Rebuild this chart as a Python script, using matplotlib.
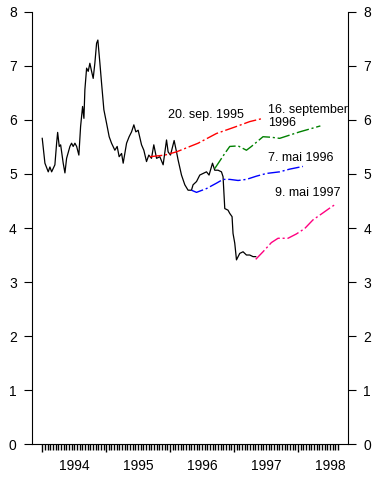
import numpy as np
import matplotlib.pyplot as plt

# black line: money market rate (decimal years)
t_rate = [1994.000, 1994.042, 1994.094, 1994.120, 1994.147, 1994.198, 1994.225, 1994.241,
          1994.266, 1994.288, 1994.328, 1994.355, 1994.381, 1994.433, 1994.459, 1994.484,
          1994.511, 1994.538, 1994.573, 1994.600, 1994.631, 1994.652, 1994.667, 1994.694,
          1994.719, 1994.745, 1994.772, 1994.797, 1994.823, 1994.850, 1994.870, 1994.902,
          1994.928, 1994.964, 1995.006, 1995.047, 1995.084, 1995.136, 1995.172, 1995.203,
          1995.241, 1995.266, 1995.319, 1995.359, 1995.397, 1995.433, 1995.464, 1995.500,
          1995.553, 1995.589, 1995.631, 1995.667, 1995.709, 1995.745, 1995.788, 1995.839,
          1995.891, 1995.944, 1995.969, 1996.006, 1996.063, 1996.100, 1996.125, 1996.178,
          1996.230, 1996.281, 1996.334, 1996.359, 1996.413, 1996.464, 1996.516, 1996.569,
          1996.609, 1996.663, 1996.698, 1996.750, 1996.803, 1996.828, 1996.855, 1996.906,
          1996.933, 1996.969, 1996.984, 1997.011, 1997.038, 1997.089, 1997.141, 1997.194,
          1997.245, 1997.297, 1997.339]
rate = [5.66, 5.20, 5.04, 5.13, 5.04, 5.17, 5.57, 5.77,
        5.51, 5.54, 5.20, 5.02, 5.29, 5.51, 5.57, 5.51,
        5.57, 5.51, 5.35, 5.88, 6.25, 6.03, 6.56, 6.96,
        6.90, 7.05, 6.90, 6.77, 7.05, 7.42, 7.48, 7.05,
        6.68, 6.19, 5.94, 5.69, 5.57, 5.44, 5.51, 5.32,
        5.38, 5.20, 5.57, 5.69, 5.78, 5.91, 5.78, 5.81,
        5.54, 5.44, 5.23, 5.35, 5.29, 5.54, 5.29, 5.32,
        5.17, 5.63, 5.41, 5.35, 5.62, 5.41, 5.26, 4.98,
        4.80, 4.70, 4.70, 4.80, 4.86, 4.98, 5.01, 5.04,
        4.98, 5.20, 5.07, 5.07, 5.04, 4.95, 4.36, 4.33,
        4.27, 4.21, 3.90, 3.72, 3.41, 3.53, 3.56, 3.50,
        3.50, 3.47, 3.47]

# forward rates
t_sep95 = [1995.683, 1995.917, 1996.100, 1996.438, 1996.725, 1997.038, 1997.245, 1997.453]
fw_sep95 = [5.32, 5.35, 5.41, 5.57, 5.75, 5.88, 5.97, 6.03]

t_sep96 = [1996.698, 1996.855, 1996.933, 1997.063, 1997.194, 1997.272, 1997.453, 1997.584,
           1997.714, 1997.870, 1998.027, 1998.234, 1998.350]
fw_sep96 = [5.10, 5.38, 5.51, 5.52, 5.44, 5.51, 5.69, 5.68, 5.66, 5.72, 5.78, 5.85, 5.89]

t_mai96 = [1996.334, 1996.413, 1996.569, 1996.725, 1996.828, 1996.933, 1997.063, 1997.194,
           1997.350, 1997.506, 1997.714, 1997.870, 1998.078]
fw_mai96 = [4.70, 4.66, 4.73, 4.83, 4.90, 4.90, 4.88, 4.90, 4.96, 5.01, 5.04, 5.09, 5.14]

t_mai97 = [1997.339, 1997.453, 1997.584, 1997.688, 1997.844, 1997.975, 1998.105, 1998.234,
           1998.391, 1998.522, 1998.589]
fw_mai97 = [3.42, 3.56, 3.73, 3.81, 3.81, 3.89, 3.99, 4.15, 4.28, 4.39, 4.44]

years = [1994, 1995, 1996, 1997, 1998]

plt.rcParams['font.family'] = ['Liberation Sans', 'DejaVu Sans']

fig = plt.figure(figsize=(3.81, 4.78), dpi=100)
ax = fig.add_axes([0.084, 0.071, 0.829, 0.904])

dash = (0, (9, 2, 1.5, 2))
ax.plot(t_rate, rate, color='black', lw=0.9)
ax.plot(t_sep95, fw_sep95, color='#ff0000', lw=1, linestyle=dash)
ax.plot(t_sep96, fw_sep96, color='#008000', lw=1, linestyle=dash)
ax.plot(t_mai96, fw_mai96, color='#0000ff', lw=1, linestyle=dash)
ax.plot(t_mai97, fw_mai97, color='#ff0080', lw=1, linestyle=dash)

ax.text(1995.96, 6.09, '20. sep. 1995', fontsize=9, va='center')
ax.text(1997.53, 6.19, '16. september', fontsize=9, va='center')
ax.text(1997.53, 5.94, '1996', fontsize=9, va='center')
ax.text(1997.53, 5.30, '7. mai 1996', fontsize=9, va='center')
ax.text(1997.64, 4.65, '9. mai 1997', fontsize=9, va='center')

ax.set_xlim(1993.84, 1998.78)
ax.set_ylim(0, 8)
ax.spines['top'].set_visible(False)
ax.spines['right'].set_visible(True)

ax.set_yticks(range(0, 9))
ax.tick_params(axis='y', which='both', direction='out', length=6, labelsize=10,
               left=True, right=True, labelleft=True, labelright=True, pad=5)

ax.set_xticks(years)
ax.set_xticklabels([])
ax.set_xticks(np.arange(1994, 1998.63, 1 / 24), minor=True)
ax.tick_params(axis='x', which='major', length=6, width=1)
ax.tick_params(axis='x', which='minor', length=4, width=1)

sec = ax.secondary_xaxis('bottom')
sec.set_xticks([y + 0.5 for y in years])
sec.set_xticklabels([str(y) for y in years])
sec.tick_params(length=0, labelsize=10, pad=11)
sec.spines['bottom'].set_visible(False)

fig.savefig('out.png', dpi=100)
